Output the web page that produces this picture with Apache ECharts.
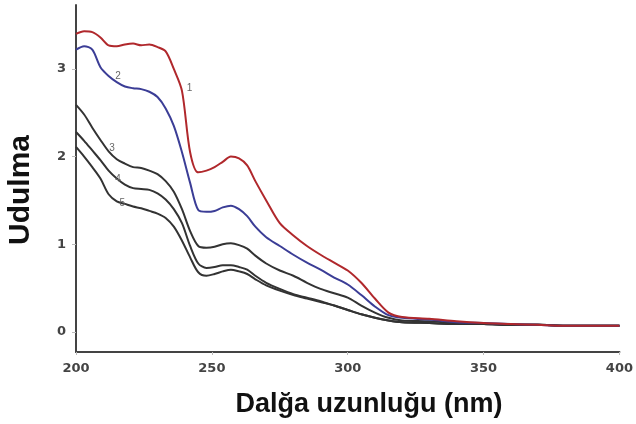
<!DOCTYPE html>
<html>
<head>
<meta charset="utf-8">
<script src="https://cdn.jsdelivr.net/npm/echarts@6/dist/echarts.min.js"></script>
<style>html,body{margin:0;padding:0;background:#fff}#c{width:636px;height:424px}</style>
</head>
<body>
<div id="c"></div>
<script>
var wavelengths = [200,203,206,209,212,215,218,221,224,227,230,233,236,239,242,245,248,251,254,257,260,263,266,270,275,280,285,290,295,300,305,310,315,320,330,340,350,360,370,380,390,400];
var curve1 = [3.40,3.43,3.42,3.36,3.27,3.26,3.28,3.29,3.27,3.28,3.25,3.20,3.00,2.75,2.05,1.82,1.84,1.88,1.94,2.00,1.98,1.90,1.72,1.50,1.24,1.10,0.98,0.88,0.79,0.70,0.56,0.38,0.22,0.17,0.15,0.12,0.10,0.09,0.08,0.07,0.07,0.07];
var curve2 = [3.22,3.26,3.22,3.02,2.92,2.85,2.80,2.78,2.77,2.74,2.68,2.55,2.35,2.05,1.70,1.39,1.37,1.38,1.42,1.44,1.40,1.32,1.20,1.08,0.98,0.88,0.79,0.71,0.62,0.54,0.42,0.29,0.19,0.16,0.14,0.11,0.10,0.09,0.08,0.07,0.07,0.07];
var curve3 = [2.59,2.48,2.33,2.19,2.06,1.97,1.92,1.88,1.87,1.84,1.80,1.72,1.60,1.40,1.15,0.98,0.96,0.97,1.00,1.01,0.99,0.95,0.87,0.78,0.70,0.64,0.56,0.49,0.44,0.39,0.30,0.22,0.16,0.13,0.12,0.10,0.09,0.08,0.08,0.07,0.07,0.07];
var curve4 = [2.28,2.18,2.07,1.96,1.84,1.75,1.68,1.64,1.63,1.62,1.58,1.51,1.40,1.24,0.98,0.78,0.73,0.74,0.76,0.76,0.74,0.71,0.64,0.56,0.49,0.43,0.39,0.35,0.30,0.25,0.20,0.16,0.13,0.11,0.10,0.09,0.09,0.08,0.08,0.07,0.07,0.07];
var curve5 = [2.11,2.00,1.88,1.75,1.57,1.49,1.46,1.43,1.41,1.38,1.35,1.30,1.20,1.04,0.85,0.68,0.64,0.66,0.69,0.71,0.69,0.66,0.60,0.53,0.47,0.42,0.38,0.34,0.30,0.25,0.20,0.16,0.13,0.11,0.10,0.09,0.09,0.08,0.08,0.07,0.07,0.07];
var curveNames = ['1','2','3','4','5'];
var curveTagX = [241.8,215.5,213.3,215.5,217.0];
var curveTagY = [2.78,2.92,2.10,1.74,1.47];
var xTicks = [200,250,300,350,400];
var yTicks = [0,1,2,3];
var xTitle = 'Dalğa uzunluğu (nm)';
var yTitle = 'Udulma';

var colors = ['#b0282c','#3b3d96','#333333','#333333','#333333'];
var allCurves = [curve1,curve2,curve3,curve4,curve5];

function pairs(ys){ return wavelengths.map(function(w,i){ return [w, ys[i]]; }); }

var series = allCurves.map(function(ys, k){
  return {
    type:'line', data: pairs(ys), showSymbol:false, smooth:0.3,
    lineStyle:{color:colors[k], width:2}, itemStyle:{color:colors[k]},
    z: 5 - k,
    markPoint:{
      symbol:'circle', symbolSize:1, itemStyle:{color:'rgba(0,0,0,0)'},
      label:{show:true, position:'inside', formatter:curveNames[k], color:'#666', fontSize:10, fontFamily:'Liberation Sans'},
      data:[{coord:[curveTagX[k], curveTagY[k]]}]
    }
  };
});

var chart = echarts.init(document.getElementById('c'), null, {renderer:'canvas'});
chart.setOption({
  animation:false,
  backgroundColor:'#fff',
  grid:{left:76, right:14, top:5, bottom:72, containLabel:false},
  xAxis:{
    type:'value', min:200, max:400, interval:50,
    axisLine:{onZero:false, lineStyle:{color:'#444', width:2}},
    axisTick:{show:true, length:3, lineStyle:{color:'#bbb'}},
    splitLine:{show:false},
    axisLabel:{color:'#444', fontWeight:'bold', fontFamily:'DejaVu Sans', fontSize:13, margin:10,
      customValues:xTicks}
  },
  yAxis:{
    type:'value', min:-0.23, max:3.73,
    axisLine:{show:true, onZero:false, lineStyle:{color:'#444', width:2}},
    axisTick:{show:true, length:4, lineStyle:{color:'#bbb'}, customValues:yTicks},
    splitLine:{show:false},
    axisLabel:{color:'#444', fontWeight:'bold', fontFamily:'DejaVu Sans', fontSize:13, margin:10,
      customValues:yTicks}
  },
  graphic:[
    {type:'text', x:369, y:391, style:{text:xTitle, font:'bold 27px "Liberation Sans"', fill:'#111', textAlign:'center', textVerticalAlign:'top'}},
    {type:'text', x:21, y:190, rotation:Math.PI/2, style:{text:yTitle, font:'bold 30px "Liberation Sans"', fill:'#111', textAlign:'center', textVerticalAlign:'middle'}}
  ],
  series: series
});
</script>
</body>
</html>
